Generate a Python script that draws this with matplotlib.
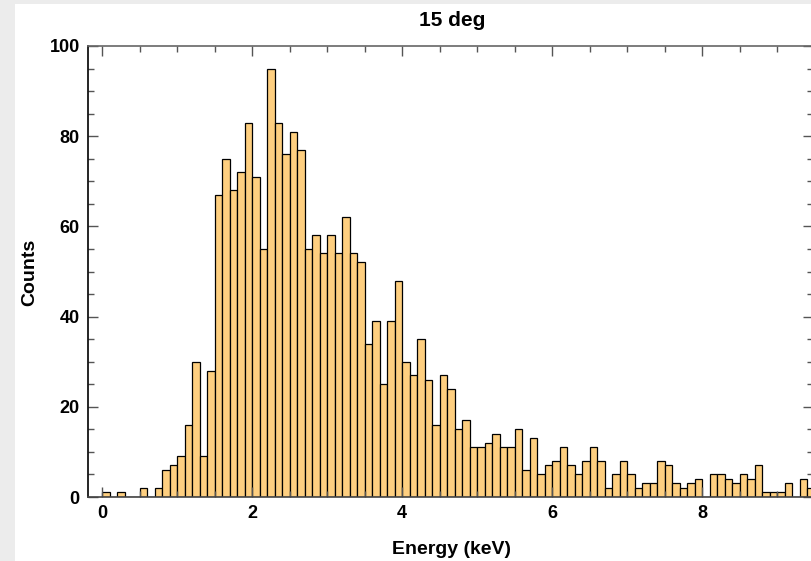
import numpy as np
import matplotlib
matplotlib.use('Agg')
import matplotlib.pyplot as plt
from matplotlib.patches import Rectangle
from matplotlib.ticker import MultipleLocator

# histogram counts, 0.1 keV bins starting at 0
bin_width = 0.1
counts = [1, 0, 1, 0, 0, 2, 0, 2, 6, 7,
          9, 16, 30, 9, 28, 67, 75, 68, 72, 83,
          71, 55, 95, 83, 76, 81, 77, 55, 58, 54,
          58, 54, 62, 54, 52, 34, 39, 25, 39, 48,
          30, 27, 35, 26, 16, 27, 24, 15, 17, 11,
          11, 12, 14, 11, 11, 15, 6, 13, 5, 7,
          8, 11, 7, 5, 8, 11, 8, 2, 5, 8,
          5, 2, 3, 3, 8, 7, 3, 2, 3, 4,
          0, 5, 5, 4, 3, 5, 4, 7, 1, 1,
          1, 3, 0, 4, 2]
edges = np.arange(len(counts)) * bin_width

title = '15 deg'
xlabel = 'Energy (keV)'
ylabel = 'Counts'

plt.rcParams['font.family'] = ['Liberation Sans', 'DejaVu Sans']
plt.rcParams['font.weight'] = 'bold'

fig = plt.figure(figsize=(8.12, 5.61), dpi=100, facecolor='#ececec')
# white panel on the grey page
fig.patches.append(Rectangle((15 / 812, 0), 1, 1 - 4 / 561, transform=fig.transFigure,
                             facecolor='white', edgecolor='none', zorder=-10))

ax = fig.add_axes([88 / 812, 1 - 497 / 561, 725 / 812, 451 / 561])
ax.bar(edges, counts, width=bin_width, align='edge', color='#fecf80',
       edgecolor='black', linewidth=0.9)

ax.set_xlim(-0.187, 9.48)
ax.set_ylim(0, 100)
ax.xaxis.set_major_locator(MultipleLocator(2))
ax.xaxis.set_minor_locator(MultipleLocator(0.5))
ax.yaxis.set_major_locator(MultipleLocator(20))
ax.yaxis.set_minor_locator(MultipleLocator(5))
ax.tick_params(which='both', direction='in', top=True, right=True, labelsize=13,
               color='#555555', pad=6)
ax.tick_params(which='major', length=7, width=1)
ax.tick_params(which='minor', length=4, width=1)
for lab in ax.get_xticklabels() + ax.get_yticklabels():
    lab.set_fontweight('bold')

ax.spines['left'].set_color('black')
ax.spines['bottom'].set_color('#444444')
ax.spines['top'].set_color('#666666')
ax.spines['right'].set_color('#666666')
for s in ax.spines.values():
    s.set_linewidth(1.2)

fig.text(452 / 812, 1 - 21 / 561, title, fontsize=15, fontweight='bold',
         ha='center', va='center')
fig.text(452 / 812, 1 - 549 / 561, xlabel, fontsize=14, fontweight='bold',
         ha='center', va='center')
fig.text(30 / 812, 1 - 272 / 561, ylabel, fontsize=14, fontweight='bold',
         ha='center', va='center', rotation=90)

fig.savefig('out.png', dpi=100, facecolor=fig.get_facecolor())
